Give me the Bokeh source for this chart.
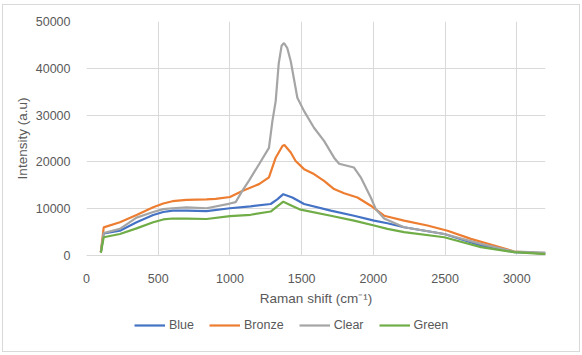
from bokeh.plotting import figure
from bokeh.layouts import column
from bokeh.models import FixedTicker, Legend, LegendItem, NumeralTickFormatter, Range1d
from bokeh.embed import file_html
from bokeh.resources import INLINE

# ---- data ----
blue_x = [100, 120, 233, 349, 465, 535, 600, 698, 837, 1000, 1144, 1284, 1330, 1372, 1435, 1517, 1703, 1865, 2005, 2098, 2214, 2494, 2750, 2982, 3200]
blue_y = [700, 4700, 5300, 7100, 8650, 9300, 9600, 9600, 9500, 10100, 10500, 11000, 12000, 13100, 12400, 11000, 9600, 8500, 7450, 6900, 6030, 4600, 2150, 710, 450]

bronze_x = [100, 120, 233, 349, 465, 535, 600, 698, 837, 900, 1000, 1086, 1203, 1272, 1319, 1366, 1380, 1424, 1458, 1517, 1586, 1656, 1726, 1796, 1889, 1982, 2075, 2214, 2377, 2517, 2680, 2842, 2982, 3200]
bronze_y = [700, 6000, 7100, 8650, 10300, 11100, 11600, 11900, 12000, 12100, 12500, 13800, 15250, 16700, 20900, 23400, 23600, 22000, 20200, 18450, 17400, 15960, 14200, 13300, 12400, 10640, 8500, 7450, 6400, 5300, 3550, 2130, 850, 400]

clear_x = [100, 120, 233, 349, 465, 535, 600, 698, 837, 1000, 1040, 1086, 1133, 1203, 1272, 1296, 1319, 1340, 1360, 1377, 1400, 1424, 1470, 1517, 1586, 1656, 1726, 1761, 1865, 1912, 1982, 2017, 2075, 2214, 2494, 2750, 2982, 3200]
clear_y = [700, 4800, 5700, 8100, 9300, 9900, 10100, 10300, 10100, 11100, 11400, 13800, 16000, 19500, 23000, 28700, 33000, 41000, 44800, 45400, 44300, 41500, 33700, 30850, 27300, 24500, 20900, 19600, 18800, 16700, 12400, 9900, 7900, 6030, 4600, 2480, 850, 600]

green_x = [100, 120, 233, 349, 465, 535, 600, 698, 837, 1000, 1144, 1284, 1330, 1372, 1435, 1493, 1703, 1865, 2005, 2098, 2214, 2494, 2750, 2982, 3200]
green_y = [600, 3900, 4600, 5800, 7100, 7700, 7900, 7900, 7800, 8400, 8700, 9400, 10500, 11500, 10600, 9800, 8500, 7450, 6400, 5700, 5000, 3900, 1800, 710, 300]

series_names = ["Blue", "Bronze", "Clear", "Green"]
series_colors = ["#4472C4", "#ED7D31", "#A5A5A5", "#70AD47"]
x_ticks = [0, 500, 1000, 1500, 2000, 2500, 3000]
y_ticks = [0, 10000, 20000, 30000, 40000, 50000]

TXT = "#595959"
FONT = "Liberation Sans"

p = figure(width=576, height=306, output_backend="svg", toolbar_location=None,
           x_range=Range1d(0, 3200), y_range=Range1d(0, 50000),
           min_border_left=83, min_border_right=34, min_border_top=16, min_border_bottom=56)
p.outline_line_color = None
p.background_fill_color = "white"
p.border_fill_color = "white"

for xs, ys, c in zip([blue_x, bronze_x, clear_x, green_x], [blue_y, bronze_y, clear_y, green_y], series_colors):
    p.line(xs, ys, line_color=c, line_width=2.2)

p.xaxis.ticker = FixedTicker(ticks=x_ticks)
p.yaxis.ticker = FixedTicker(ticks=y_ticks)
p.yaxis.formatter = NumeralTickFormatter(format="0")
p.xaxis.formatter = NumeralTickFormatter(format="0")
p.xgrid.grid_line_color = "#d9d9d9"
p.ygrid.grid_line_color = "#d9d9d9"

for ax in (p.xaxis, p.yaxis):
    ax.major_tick_line_color = None
    ax.minor_tick_line_color = None
    ax.major_label_text_color = TXT
    ax.major_label_text_font = FONT
    ax.major_label_text_font_size = "12.5px"
    ax.axis_label_text_color = TXT
    ax.axis_label_text_font = FONT
    ax.axis_label_text_font_size = "13.5px"
    ax.axis_label_text_font_style = "normal"

p.yaxis.axis_line_color = None
p.xaxis.axis_line_color = "#d9d9d9"
p.yaxis.major_label_standoff = 10
p.xaxis.major_label_standoff = 12
p.yaxis.axis_label = "Intensity (a.u)"
p.xaxis.axis_label = "Raman shift (cm\u207b\u00b9)"
p.yaxis.axis_label_standoff = 3
p.xaxis.axis_label_standoff = 5

# legend strip below the chart
lg = figure(width=576, height=40, output_backend="svg", toolbar_location=None,
            x_range=Range1d(0, 1), y_range=Range1d(0, 1),
            x_axis_type=None, y_axis_type=None,
            min_border_left=0, min_border_right=0, min_border_top=0, min_border_bottom=0)
lg.outline_line_color = None
lg.xgrid.visible = False
lg.ygrid.visible = False
lg_renderers = [lg.line([-5, -4], [-5, -4], line_color=c, line_width=2.2) for c in series_colors]
legend = Legend(items=[LegendItem(label=n, renderers=[r]) for n, r in zip(series_names, lg_renderers)],
                orientation="horizontal", location=(48, 18))
legend.glyph_width = 31
legend.glyph_height = 16
legend.label_standoff = 4
legend.spacing = 15
legend.padding = 0
legend.margin = 0
legend.border_line_color = None
legend.background_fill_alpha = 0
legend.label_text_color = TXT
legend.label_text_font = FONT
legend.label_text_font_size = "12.5px"
lg.add_layout(legend, "center")

layout = column(p, lg, spacing=0)
layout.margin = (4, 0, 0, 2)
layout.styles = {"border": "1px solid #d9d9d9"}

open("out.html", "w").write(file_html(layout, INLINE))
